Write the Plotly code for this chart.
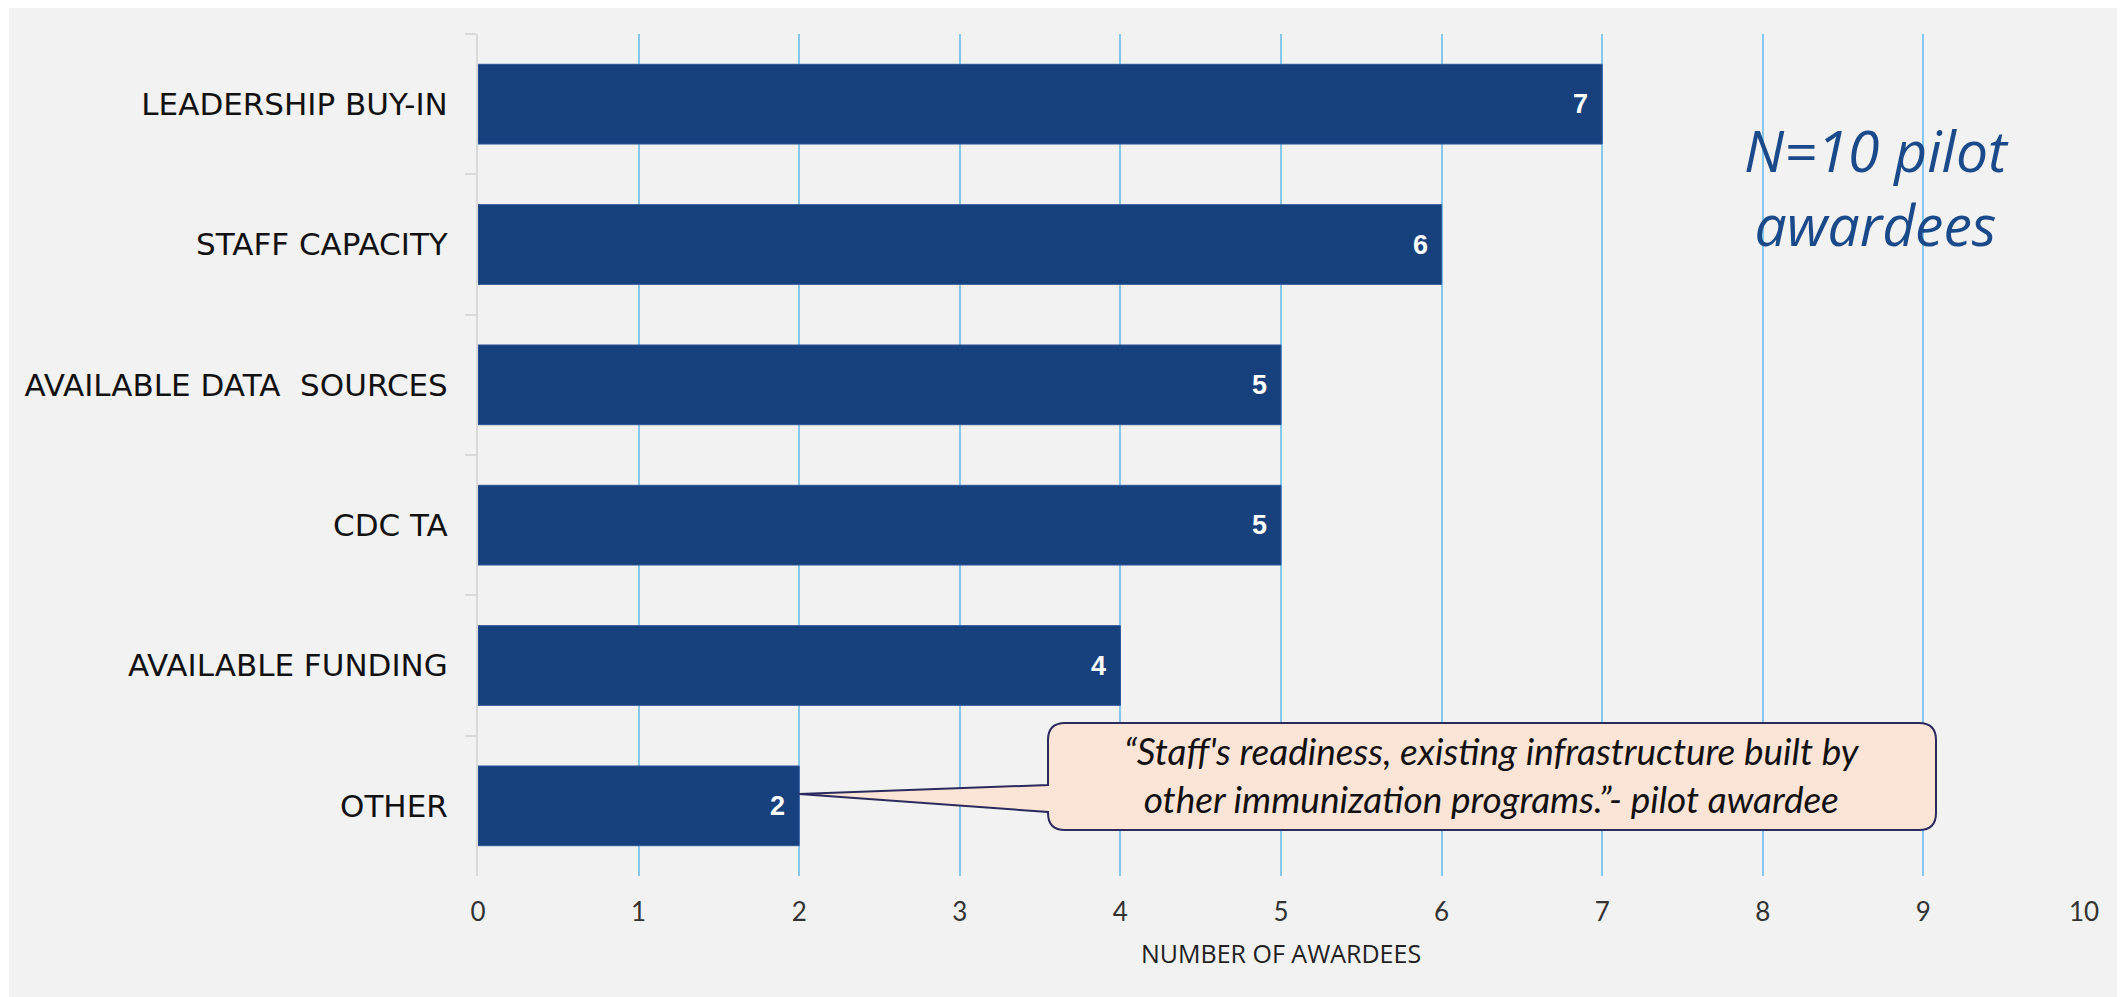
import plotly.graph_objects as go

categories = ["LEADERSHIP BUY-IN", "STAFF CAPACITY", "AVAILABLE DATA  SOURCES",
              "CDC TA", "AVAILABLE FUNDING", "OTHER"]
values = [7, 6, 5, 5, 4, 2]
x_ticks = list(range(0, 11))
x_title = "NUMBER OF AWARDEES"
note_text = "N=10 pilot<br>awardees"
quote_text = ("\u201cStaff's readiness, existing infrastructure built by<br>"
              "other immunization programs.\u201d- pilot awardee")

OFF = 8  # page body margin
SW, SH = 2125, 997  # screen size
W, H = SW - OFF, SH - OFF
# plot area in screen pixels
SX0, SX1, SY0, SY1 = 478, 2084, 34, 876
L, R, T, B = SX0 - OFF, SW - SX1, SY0 - OFF, SH - SY1
PW, PH = SX1 - SX0, SY1 - SY0

def px_x(p):  # screen pixel -> paper x
    return (p - SX0) / PW

def px_y(p):  # screen pixel -> paper y
    return 1 - (p - SY0) / PH

def dx(p):  # screen pixel -> data x
    return (p - SX0) / (PW / 10.0)

BAR = "#17417D"
GRID = "#86C8EC"
BG = "#F2F2F2"

fig = go.Figure()
fig.add_trace(go.Bar(
    x=values, y=categories, orientation="h",
    marker=dict(color=BAR, line=dict(color="#2F5597", width=1)),
    hoverinfo="skip", showlegend=False,
))

# value labels inside bar ends
for c, v in zip(categories, values):
    fig.add_annotation(x=v, y=c, xref="x", yref="y", text=str(v),
                       showarrow=False, xanchor="right", xshift=-12,
                       font=dict(family="Liberation Sans, Arial", size=27,
                                 color="white", weight="bold"))

# background panel
shapes = [dict(type="rect", xref="paper", yref="paper", layer="below",
               x0=px_x(9), x1=px_x(SW + 20), y0=px_y(8), y1=px_y(SH + 20),
               fillcolor=BG, line=dict(width=0))]

# callout with pointer to the OTHER bar
bl, br, bt, bb, rr = 1048, 1936, 723, 830, 17
p1, p2 = 785, 812
tip_x = values[-1]
tip_y = 794
path = (f"M {dx(bl)},{px_y(bt + rr)} "
        f"L {dx(bl)},{px_y(p1)} "
        f"L {tip_x},{px_y(tip_y)} "
        f"L {dx(bl)},{px_y(p2)} "
        f"L {dx(bl)},{px_y(bb - rr)} "
        f"Q {dx(bl)},{px_y(bb)} {dx(bl + rr)},{px_y(bb)} "
        f"L {dx(br - rr)},{px_y(bb)} "
        f"Q {dx(br)},{px_y(bb)} {dx(br)},{px_y(bb - rr)} "
        f"L {dx(br)},{px_y(bt + rr)} "
        f"Q {dx(br)},{px_y(bt)} {dx(br - rr)},{px_y(bt)} "
        f"L {dx(bl + rr)},{px_y(bt)} "
        f"Q {dx(bl)},{px_y(bt)} {dx(bl)},{px_y(bt + rr)} Z")
shapes.append(dict(type="path", xref="x", yref="paper", path=path, layer="above",
                   fillcolor="#FCE4D6", line=dict(color="#2B2A5C", width=2)))

fig.update_layout(shapes=shapes)

fig.add_annotation(x=dx((bl + br) / 2), y=px_y((bt + bb) / 2 - 2), xref="x", yref="paper",
                   text=quote_text, showarrow=False, xanchor="center", yanchor="middle",
                   align="center",
                   font=dict(family="Lato", size=37, color="#111111", style="italic"))

fig.add_annotation(x=px_x(1876), y=px_y(187), xref="paper", yref="paper",
                   text=note_text, showarrow=False, xanchor="center", yanchor="middle",
                   align="center",
                   font=dict(family="Open Sans", size=57, color="#1B4A8A", style="italic"))

fig.add_annotation(x=0.5, y=px_y(953), xref="paper", yref="paper",
                   text=x_title, showarrow=False, xanchor="center", yanchor="middle",
                   font=dict(family="Open Sans", size=25, color="#222222"))

fig.update_layout(
    width=W, height=H,
    margin=dict(l=L, r=R, t=T, b=B, pad=0),
    paper_bgcolor="white", plot_bgcolor=BG,
    bargap=0.432,
    xaxis=dict(range=[0, 10], tickvals=x_ticks, ticktext=[str(t) for t in x_ticks],
               showgrid=True, gridcolor=GRID, gridwidth=2, zeroline=False,
               showline=False, ticks="", ticklabelstandoff=18,
               tickfont=dict(family="Lato", size=26, color="#333333"),
               fixedrange=True),
    yaxis=dict(categoryorder="array", categoryarray=categories, autorange="reversed",
               showgrid=False, zeroline=False, showline=True, linecolor="#D9D9D9",
               linewidth=2, ticks="outside", tickson="boundaries", ticklen=11,
               tickcolor="#D9D9D9", tickwidth=2, ticklabelstandoff=22,
               tickfont=dict(family="DejaVu Sans", size=31, color="#111111"),
               fixedrange=True),
)

fig.write_html("out.html")
